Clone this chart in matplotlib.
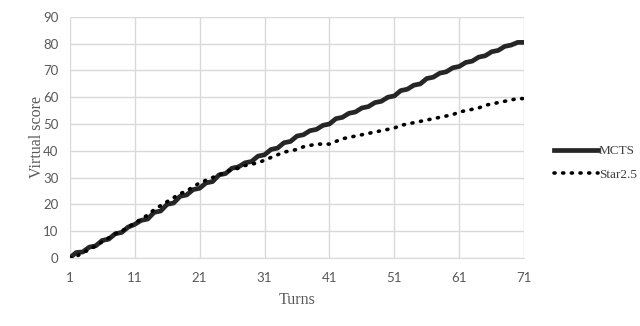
import numpy as np
import matplotlib
matplotlib.use("Agg")
import matplotlib.pyplot as plt

# values
turns = list(range(1, 72))
mcts = [0, 2, 2.2, 4, 4.5, 6.5, 7, 9, 9.5, 11.5,
        12.5, 14, 14.5, 17, 17.5, 20, 20.5, 23, 23.5, 25.5,
        26, 28, 28.5, 31, 31.5, 33.5, 34, 35.5, 36, 38,
        38.5, 40.5, 41, 43, 43.5, 45.5, 46, 47.5, 48, 49.5,
        50, 52, 52.5, 54, 54.5, 56, 56.5, 58, 58.5, 60,
        60.5, 62.5, 63, 64.5, 65, 67, 67.5, 69, 69.5, 71,
        71.5, 73, 73.5, 75, 75.5, 77, 77.5, 79, 79.5, 80.5, 80.5]
star = [0, 0.5, 2, 3, 4.5, 6, 7.5, 9, 10, 11.5,
        13, 14.5, 16, 18, 19.5, 21, 22.5, 24, 25, 26.5,
        28, 29, 30, 31, 32, 33, 33.5, 34.5, 35, 35.5,
        36.5, 37.5, 38.5, 39.5, 40, 40.5, 41.5, 42, 42.5, 42.5,
        42.5, 43.5, 44.5, 45, 45.5, 46, 46.5, 47, 47.5, 48,
        48.5, 49.5, 50, 50.5, 51, 51.5, 52, 52.5, 53, 53.5,
        54.5, 55, 55.5, 56, 57, 57.5, 58, 58.5, 59, 59.5, 59.5]
xticks = [1, 11, 21, 31, 41, 51, 61, 71]
yticks = list(range(0, 91, 10))

fig = plt.figure(figsize=(6.4, 3.26), dpi=100)
ax = fig.add_axes([0.109, 0.209, 0.710, 0.739])

ax.plot(turns, mcts, color='#262626', linewidth=3.4, label='MCTS', zorder=3)
ax.plot(turns, star, color='black', linewidth=2.6, linestyle=(0, (0.3, 2.1)),
        dash_capstyle='round', label='Star2.5', zorder=3)

ax.set_xlim(1, 71)
ax.set_ylim(0, 90)
ax.set_xticks(xticks)
ax.set_yticks(yticks)
ax.grid(True, color='#d9d9d9', linewidth=1)
ax.set_axisbelow(True)
for s in ['top', 'right', 'left']:
    ax.spines[s].set_visible(False)
ax.spines['bottom'].set_color('#d9d9d9')
ax.tick_params(axis='y', length=0, labelsize=9.5, labelcolor='#595959', pad=8)
ax.tick_params(axis='x', length=0, labelsize=9.5, labelcolor='#595959', pad=10)
for lab in ax.get_xticklabels() + ax.get_yticklabels():
    lab.set_family('Lato')

ax.set_xlabel('Turns', family='Liberation Serif', fontsize=11.5, color='#595959', labelpad=6)
ax.set_ylabel('Virtual score', family='Liberation Serif', fontsize=11.5, color='#595959', labelpad=-1)

leg = fig.legend(loc='center left', bbox_to_anchor=(0.866, 0.5), frameon=False,
                 borderpad=0, borderaxespad=0,
                 handlelength=3.3, handletextpad=0.1, labelspacing=0.85,
                 prop={'family': 'Liberation Serif', 'size': 9.5})
for t in leg.get_texts():
    t.set_color('#404040')

fig.savefig('out.png', dpi=100)
